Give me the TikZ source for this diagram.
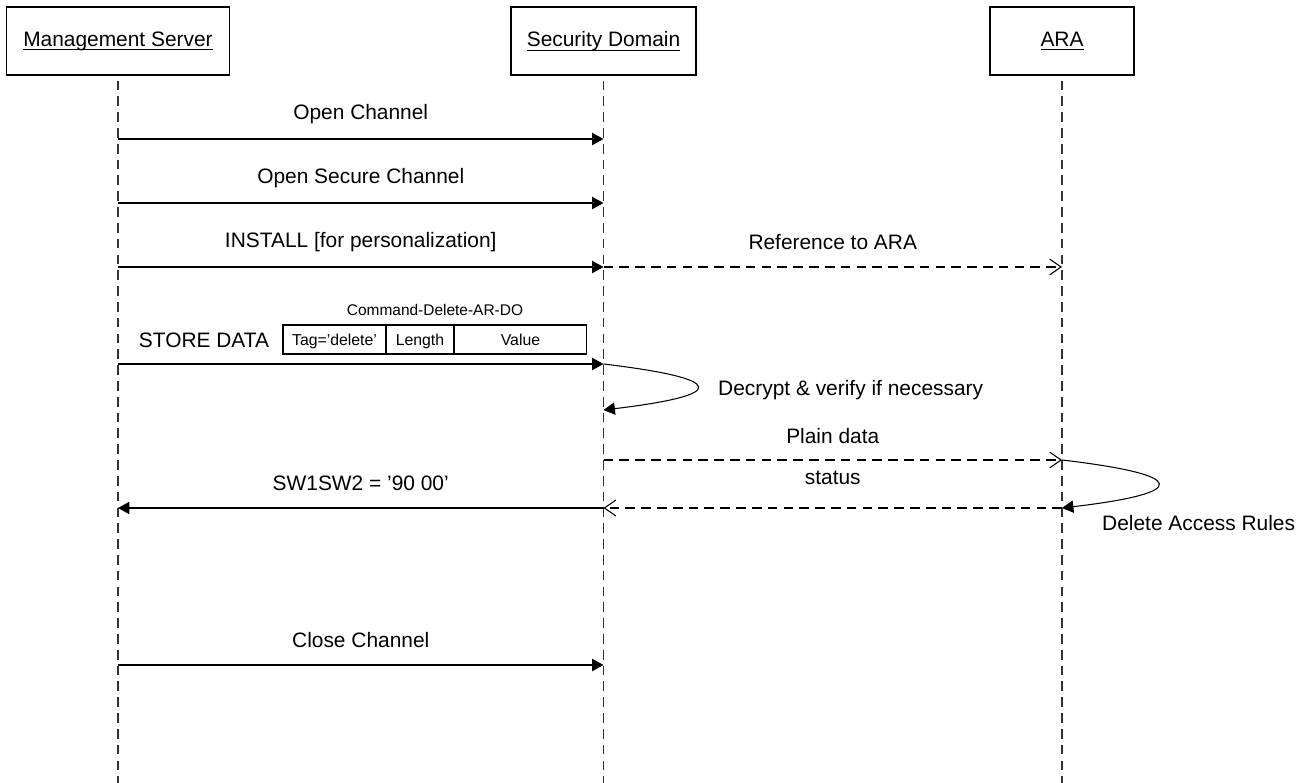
\documentclass[tikz,border=0pt]{standalone}
\usepackage{fontspec}
\setmainfont{Liberation Sans}
\usetikzlibrary{calc,positioning,arrows.meta}

\newcommand{\actorname}[1]{\setbox0\hbox{#1}\rlap{\rule[-2.4pt]{\wd0}{0.6pt}}\box0}

\begin{document}
\begin{tikzpicture}[x=0.02cm, y=-0.02cm,
	every node/.style={font=\fontsize{11.9}{14}\selectfont},
	actor/.style={draw, line width=0.7pt, minimum height=1.36cm, inner sep=0pt},
	lifeline/.style={line width=0.6pt, black!80, dash pattern=on 5.5pt off 3.5pt},
	call/.style={line width=0.6pt, -{Triangle[length=6.5pt,width=7pt]}},
	reply/.style={line width=0.6pt, dash pattern=on 5.5pt off 3.5pt, -{Straight Barb[length=6.5pt,width=9pt]}},
	msg/.style={yshift=0.5cm},
	cell/.style={draw, line width=0.6pt, minimum height=0.58cm, inner sep=0pt, outer sep=0pt,
		text height=1.5ex, text depth=0.3ex, font=\fontsize{9}{10}\selectfont},
]

% parameters %{{{2

	\def\xms{118}
	\def\xsd{603.5}
	\def\xara{1062}
	\def\ybottom{783}

	\useasboundingbox (0,0) rectangle (1309,783);

% actors %{{{2

	\node[actor, minimum width=4.46cm] (ms) at (\xms,41) {\actorname{Management Server}};
	\node[actor, minimum width=3.7cm] (sd) at (\xsd,41) {\actorname{Security Domain}};
	\node[actor, minimum width=2.88cm] (ara) at (\xara,41) {\actorname{ARA}};

% lifelines %{{{2

	\foreach \l/\x in {ms/\xms, sd/\xsd, ara/\xara} {
		\coordinate (\l-end) at (\x,\ybottom);
		\draw[lifeline] ([yshift=-0.1cm]\l.south) -- (\l-end);
	}

% message rows %{{{2

	\foreach \r/\y in {open/139, secure/203, install/267, store/364, back/410,
		plain/460, status/508, close/665} {
		\foreach \l/\x in {ms/\xms, sd/\xsd, ara/\xara} {
			\coordinate (\l-\r) at (\x,\y);
		}
	}

% messages %{{{2

	\draw[call] (ms-open) -- node[msg] {Open Channel} (sd-open);
	\draw[call] (ms-secure) -- node[msg] {Open Secure Channel} (sd-secure);
	\draw[call] (ms-install) -- node[msg] {INSTALL [for personalization]} (sd-install);
	\draw[reply] (sd-install) -- node[msg] {Reference to ARA} (ara-install);

	\draw[call] (ms-store) -- (sd-store);
	\draw[call] (sd-store) .. controls ($(sd-store)+(125,15)$) and ($(sd-back)+(125,-15)$) .. (sd-back);

	\draw[reply] (sd-plain) -- node[msg, yshift=-0.02cm] {Plain data} (ara-plain);
	\draw[call] (ara-plain) .. controls ($(ara-plain)+(128,15)$) and ($(ara-status)+(128,-15)$) .. (ara-status);
	\draw[reply] (ara-status) -- node[msg, yshift=0.1cm] {status} (sd-status);
	\draw[call] (sd-status) -- node[msg] {SW1SW2 = '90 00'} (ms-status);

	\draw[call] (ms-close) -- node[msg] {Close Channel} (sd-close);

% store data command %{{{2

	\node (store) at (204,340) {STORE DATA};
	\node[cell, minimum width=2.06cm] (tag) at (334.5,339.5) {Tag='delete'};
	\node[cell, minimum width=1.36cm, right=0pt of tag] (len) {Length};
	\node[cell, minimum width=2.66cm, right=0pt of len] (val) {Value};
	\node[font=\fontsize{8.8}{10}\selectfont] (cmd) at (435,310) {Command-Delete-AR-DO};

% self message labels %{{{2

	\node[anchor=west] (decrypt) at (712,390) {Decrypt \& verify if necessary};
	\node[anchor=west] (delete) at (1096,523) {Delete Access Rules};

% closing %{{{2

\end{tikzpicture}
\end{document}
